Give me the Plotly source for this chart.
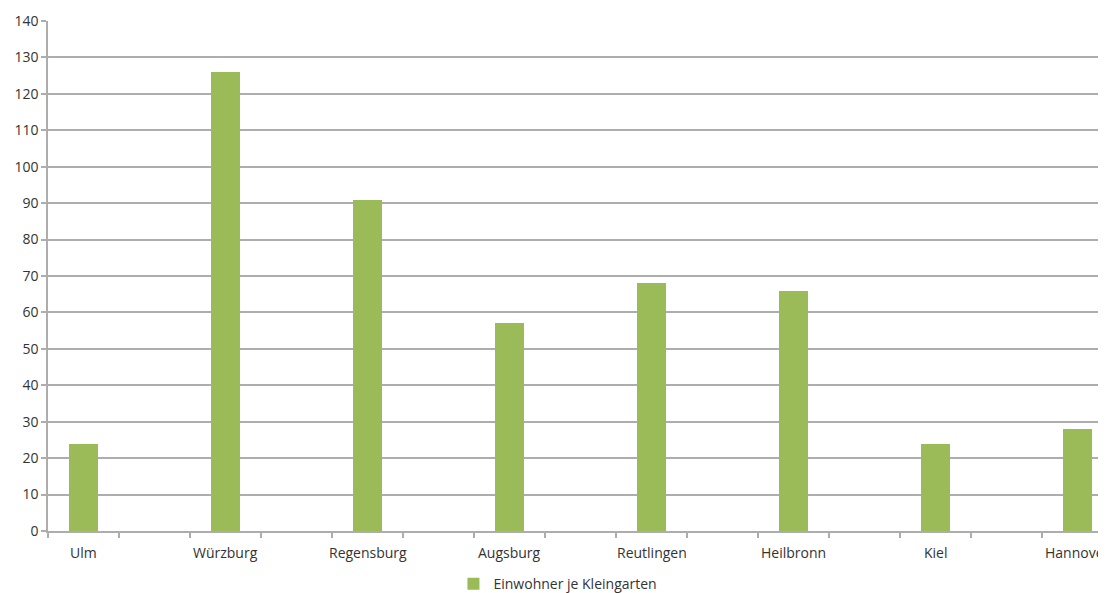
import plotly.graph_objects as go

cities = ["Ulm", "Würzburg", "Regensburg", "Augsburg", "Reutlingen", "Heilbronn", "Kiel", "Hannover"]
values = [24, 126, 91, 57, 68, 66, 24, 28]
series_name = "Einwohner je Kleingarten"
y_ticks = list(range(0, 141, 10))

# each labelled city occupies every other category slot (Excel skipped alternating labels)
positions = [2 * i for i in range(len(cities))]
boundaries = [i - 0.5 for i in range(0, 17)]

font_family = "Open Sans, Liberation Sans, sans-serif"
text_color = "#333333"
grid_color = "#ADADAD"

fig = go.Figure()
fig.add_trace(go.Bar(
    x=positions,
    y=values,
    name=series_name,
    width=0.41,
    marker=dict(color="#9BBB59", line=dict(width=0)),
    showlegend=True,
))

# category labels as annotations on the x scale (last one is cut by the page edge as in the source)
for p, c in zip(positions, cities):
    fig.add_annotation(
        x=p, xref="x", y=0, yref="paper",
        text=c, showarrow=False,
        yanchor="middle", xanchor="center", yshift=-21,
        font=dict(family=font_family, size=14, color=text_color),
    )

# page body has an 8px default margin, so the figure is sized to fill the rest of the window
fig.update_layout(
    width=1098,
    height=585,
    margin=dict(l=40, r=0, t=13, b=62, autoexpand=False),
    paper_bgcolor="white",
    plot_bgcolor="white",
    font=dict(family=font_family, size=14, color=text_color),
    showlegend=True,
    legend=dict(
        orientation="h",
        x=0.482,
        xanchor="center",
        y=-0.104,
        yanchor="middle",
        font=dict(size=14, color=text_color),
        itemwidth=30,
    ),
    bargap=0,
)

fig.update_xaxes(
    range=[-0.5, 14.40],
    automargin=False,
    showticklabels=False,
    tickmode="array",
    tickvals=boundaries,
    ticks="outside",
    ticklen=5,
    tickcolor=grid_color,
    tickwidth=1.5,
    showgrid=False,
    zeroline=False,
    showline=True,
    linecolor=grid_color,
    linewidth=1.5,
    fixedrange=True,
)

fig.update_yaxes(
    range=[0, 140],
    automargin=False,
    tickmode="array",
    tickvals=y_ticks,
    ticks="outside",
    ticklen=5,
    tickcolor=grid_color,
    tickwidth=1.5,
    showgrid=True,
    gridcolor=grid_color,
    gridwidth=1.5,
    zeroline=False,
    showline=True,
    linecolor=grid_color,
    linewidth=1.5,
    tickfont=dict(size=14, color=text_color),
    fixedrange=True,
)

fig.write_html("out.html", config={"displayModeBar": False})
